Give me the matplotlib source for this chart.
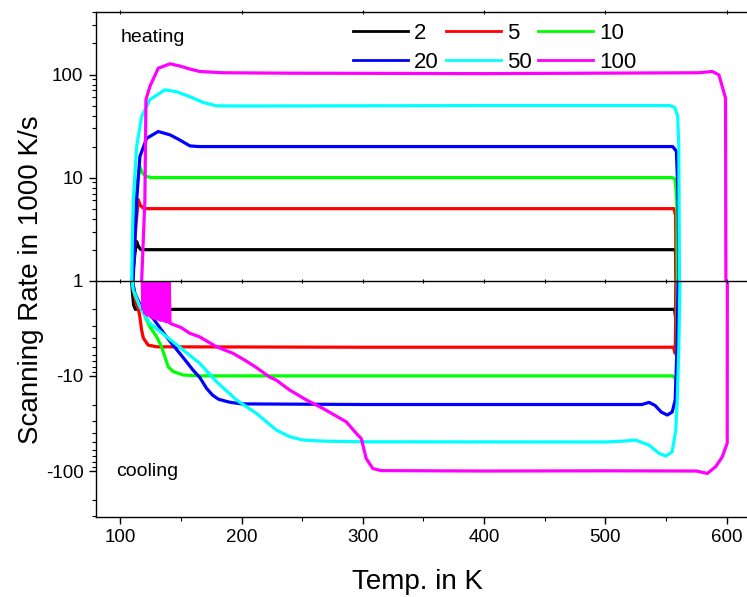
import matplotlib
matplotlib.use('Agg')
import matplotlib.pyplot as plt
from matplotlib.ticker import LogLocator, NullFormatter, MultipleLocator

plt.rcParams['font.family'] = ['Liberation Sans', 'DejaVu Sans']

# scanning rates in 1000 K/s, one curve each
rates = [2, 5, 10, 20, 50, 100]
colors = ['#000000', '#ff0000', '#00ff00', '#0000ff', '#00ffff', '#ff00ff']

# heating branch: temperature (K) and rate (1000 K/s)
heat_T_2 = [109.3, 110.5, 112, 113.5, 115, 117, 121.7, 300, 557.5, 558, 558.3]
heat_r_2 = [0.9, 1.2, 1.8, 2.4, 2.15, 2.0, 2.0, 2.0, 2.0, 1.7, 0.9]
heat_T_5 = [109.5, 111, 113, 114.8, 116.5, 119, 121.7, 300, 556.5, 557.8, 558.3]
heat_r_5 = [0.9, 1.5, 3.5, 6.1, 5.4, 5.05, 5.0, 5.0, 5.0, 4.3, 0.9]
heat_T_10 = [109.5, 111, 112.5, 114, 116.2, 118, 121, 126, 300, 555, 557.5, 558.8, 559.2]
heat_r_10 = [0.9, 1.6, 4.5, 9, 12.8, 11.2, 10.3, 10, 10, 10, 9.6, 6, 0.9]
heat_T_20 = [110.5, 112, 113.5, 116.2, 121.7, 131.3, 141, 149, 157.4, 165, 300, 555.5, 558.5, 560, 560.5]
heat_r_20 = [0.9, 2.5, 6, 16, 24, 28, 26, 23.2, 20.3, 20, 20, 20, 18, 6, 0.9]
heat_T_50 = [109.4, 110, 110.7, 113.5, 117.6, 124.4, 136.8, 146.4, 157.4, 168.3, 179.3, 200, 400,
             553, 557, 559.5, 560.5, 561]
heat_r_50 = [0.9, 2.5, 6, 20, 39, 57, 71, 68, 61, 53.6, 49.7, 49.5, 50, 50, 48, 40, 20, 0.9]
heat_T_100 = [117.5, 119, 120.3, 121.2, 124.4, 131.3, 141, 149, 157.4, 165.6, 184.5, 240, 400,
              577, 588, 593.6, 599, 599.3]
heat_r_100 = [0.9, 2.5, 6, 57, 76.5, 115, 127, 121, 113, 107, 104, 103, 102, 104, 107, 99, 59, 0.9]

# cooling branch: temperature (K) and |rate| (1000 K/s), shown as negative
cool_T_2 = [109.2, 110, 111, 112.5, 300, 557, 558, 558.3]
cool_r_2 = [0.9, 1.3, 1.8, 2.0, 2.0, 2.0, 2.5, 0.9]
cool_T_5 = [109.3, 111, 113, 114.8, 116.2, 117.6, 119, 123, 130, 300, 556, 557.5, 558.3]
cool_r_5 = [0.9, 1.3, 1.7, 1.95, 2.4, 3.3, 4.0, 4.75, 4.95, 5.0, 5.0, 5.8, 0.9]
cool_T_10 = [109.4, 112, 116, 120, 124.4, 130, 134, 136.8, 139.5, 143.6, 151.9, 165.6, 300,
             555, 557.5, 558.8, 559.2]
cool_r_10 = [0.9, 1.4, 1.85, 2.3, 3.05, 3.88, 4.94, 6.3, 8.0, 9.0, 9.8, 10.0, 10, 10, 10.5, 13, 0.9]
cool_T_20 = [109.3, 112, 116, 121, 127.2, 138.2, 146, 154.6, 160, 165.6, 171.1, 176, 181, 190, 200,
             300, 530, 536, 541, 546, 551, 555, 557.5, 559, 560]
cool_r_20 = [0.9, 1.35, 1.75, 2.1, 2.5, 3.9, 5.2, 7.1, 8.7, 10.4, 13.5, 15.9, 17.6, 18.9, 19.7,
             20, 20, 19.0, 20.5, 24, 25.8, 24, 18, 5, 0.9]
cool_T_50 = [109.4, 110.7, 116.2, 124.4, 138.2, 151.9, 165.6, 179.3, 195.8, 212.3, 228.7, 239.7,
             250.6, 267, 300, 500, 515, 525, 536, 544, 549.7, 555, 558, 559.3, 560.5, 561.5]
cool_r_50 = [0.9, 1.25, 1.88, 2.8, 3.88, 5.35, 7.4, 11.5, 17.9, 24.8, 37.1, 43.6,
             47.2, 48.5, 49.3, 49.5, 48.5, 47.3, 53.5, 65, 69.6, 62.8, 37, 16.6, 5, 0.9]
# the 100 curve is very noisy at the cold end, read as a zigzag
cool_T_100 = [118, 118.8, 119.6, 120.4, 121.2, 122, 122.8, 123.6, 124.4, 125.2, 126, 126.8,
              127.6, 128.4, 129.2, 130, 130.8, 131.6, 132.4, 133.2, 134, 134.8, 135.6, 136.4,
              137.2, 138, 138.8, 139.6, 140.4, 141,
              150, 157.4, 165.6, 179.3, 193, 204, 212.3, 223.2, 228.7, 239.7, 253.4,
              267.1, 286.3, 294.6, 298.7, 302.8, 308.2, 315, 400, 500, 575, 584, 590.9, 596.3,
              600.4, 600.5]
cool_r_100 = [0.9, 2.0, 0.9, 2.2, 0.9, 2.3, 0.95, 2.3, 0.9, 2.4, 0.95, 2.45, 0.9, 2.5, 0.95,
              2.5, 0.9, 2.55, 0.95, 2.6, 0.9, 2.6, 0.95, 2.65, 0.9, 2.7, 1.0, 2.7, 1.0, 2.8,
              3.1, 3.57, 3.9, 4.94, 5.8, 7.0, 8.2, 10.3, 11.1, 14.1, 17.9,
              22, 30.4, 40.2, 45.6, 74, 94, 99, 100, 99.5, 100, 106, 90, 71, 51, 0.9]

heat_T = [heat_T_2, heat_T_5, heat_T_10, heat_T_20, heat_T_50, heat_T_100]
heat_r = [heat_r_2, heat_r_5, heat_r_10, heat_r_20, heat_r_50, heat_r_100]
cool_T = [cool_T_2, cool_T_5, cool_T_10, cool_T_20, cool_T_50, cool_T_100]
cool_r = [cool_r_2, cool_r_5, cool_r_10, cool_r_20, cool_r_50, cool_r_100]

fig = plt.figure(figsize=(7.47, 5.97), dpi=100)
# two stacked log layers: heating above the 1 line, cooling (reversed) below
ax_c = fig.add_axes([0.1285, 0.1345, 0.8715, 0.3953])
ax_h = fig.add_axes([0.1285, 0.5298, 0.8715, 0.4501])
ax_c.patch.set_alpha(0)
ax_h.patch.set_alpha(0)

handles = []
for i in range(len(rates)):
    line, = ax_h.plot(heat_T[i], heat_r[i], color=colors[i], lw=2.3, label=str(rates[i]))
    ax_c.plot(cool_T[i], cool_r[i], color=colors[i], lw=2.3)
    handles.append(line)

for ax in (ax_h, ax_c):
    ax.set_yscale('log')
    ax.set_xlim(80, 616.7)
    ax.spines['right'].set_visible(False)
    for s in ax.spines.values():
        s.set_linewidth(1.0)
        s.set_color('black')
    ax.yaxis.set_minor_locator(LogLocator(base=10, subs=range(2, 10)))
    ax.yaxis.set_minor_formatter(NullFormatter())
    ax.tick_params(axis='y', which='major', direction='out', length=5, width=1, labelsize=13.5, pad=4)
    ax.tick_params(axis='y', which='minor', direction='out', length=3, width=0.8)
    ax.xaxis.set_major_locator(MultipleLocator(100))
    ax.xaxis.set_minor_locator(MultipleLocator(50))

ax_h.set_ylim(1, 404)
ax_h.set_yticks([1, 10, 100])
ax_h.set_yticklabels(['1', '10', '100'])
ax_h.spines['bottom'].set_zorder(5)
ax_h.tick_params(axis='x', which='both', top=True, bottom=True, direction='inout',
                 length=3, width=0.8, labelbottom=False)
ax_h.tick_params(axis='x', which='minor', top=False)

ax_c.set_ylim(302, 1)
ax_c.set_yticks([10, 100])
ax_c.set_yticklabels(['-10', '-100'])
ax_c.spines['top'].set_visible(False)
ax_c.tick_params(axis='x', which='major', direction='out', length=5, width=1, labelsize=13.5, pad=4)
ax_c.tick_params(axis='x', which='minor', direction='out', length=3, width=0.8)

fig.text(121 / 747, 1 - 37 / 597, 'heating', fontsize=14, va='center', ha='left')
fig.text(116 / 747, 1 - 471.7 / 597, 'cooling', fontsize=14, va='center', ha='left')

fig.text(417.5 / 747, 1 - 581.7 / 597, 'Temp. in K', fontsize=20, ha='center', va='center')
fig.text(31 / 747, 1 - 280 / 597, 'Scanning Rate in 1000 K/s', fontsize=20,
         rotation=90, ha='center', va='center')

# row-wise legend order: 2 5 10 / 20 50 100 (matplotlib fills by column)
leg_order = [0, 3, 1, 4, 2, 5]
leg = ax_h.legend(handles=[handles[k] for k in leg_order], ncol=3, frameon=False, fontsize=16,
                  loc='upper left', bbox_to_anchor=(353 / 747, 1 - 23 / 597),
                  bbox_transform=fig.transFigure, borderpad=0, borderaxespad=0,
                  handlelength=2.48, handletextpad=0.27, columnspacing=0.3, labelspacing=0.35)
for h in leg.get_lines():
    h.set_linewidth(2.0)

fig.savefig('out.png', dpi=100)
